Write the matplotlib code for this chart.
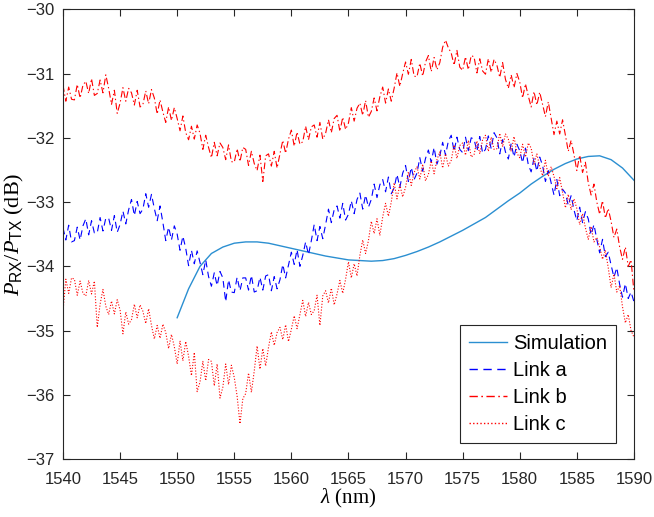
import matplotlib
matplotlib.use("Agg")
import matplotlib.pyplot as plt
import numpy as np

plt.rcParams['mathtext.fontset'] = 'custom'
plt.rcParams['mathtext.rm'] = 'Liberation Serif'
plt.rcParams['mathtext.it'] = 'Liberation Serif:italic'
plt.rcParams['mathtext.sf'] = 'Liberation Sans'

# simulation, 1 nm grid
wl_sim = np.arange(1550, 1591, 1)
p_sim = [-34.80, -34.35, -34.00, -33.80, -33.70, -33.64, -33.62, -33.62, -33.64, -33.68,
         -33.72, -33.76, -33.80, -33.84, -33.87, -33.90, -33.91, -33.92, -33.91, -33.88,
         -33.83, -33.77, -33.70, -33.62, -33.53, -33.44, -33.34, -33.24, -33.11, -32.98,
         -32.86, -32.72, -32.60, -32.49, -32.40, -32.33, -32.29, -32.28, -32.34, -32.47,
         -32.66]

# measured links, 0.25 nm grid (4 values per nm)
wl_meas = np.arange(0, 201) * 0.25 + 1540

link_a = [
    -33.40, -33.59, -33.36, -33.62, -33.60, -33.39, -33.59, -33.37,
    -33.26, -33.51, -33.29, -33.48, -33.48, -33.24, -33.45, -33.25,
    -33.25, -33.44, -33.21, -33.47, -33.35, -33.14, -33.34, -33.12,
    -32.96, -33.21, -32.99, -33.18, -33.11, -32.87, -33.08, -32.88,
    -33.10, -33.29, -33.06, -33.32, -33.60, -33.39, -33.59, -33.37,
    -33.50, -33.75, -33.53, -33.72, -33.99, -33.75, -33.96, -33.76,
    -33.94, -34.13, -33.90, -34.16, -34.31, -34.10, -34.30, -34.08,
    -34.18, -34.55, -34.21, -34.40, -34.41, -34.17, -34.38, -34.18,
    -34.18, -34.37, -34.14, -34.40, -34.38, -34.17, -34.37, -34.15,
    -34.13, -34.38, -34.16, -34.35, -34.21, -33.97, -34.18, -33.98,
    -33.78, -33.97, -33.74, -34.00, -33.83, -33.62, -33.82, -33.60,
    -33.35, -33.60, -33.38, -33.57, -33.35, -33.11, -33.32, -33.12,
    -33.06, -33.25, -33.02, -33.28, -33.19, -32.98, -33.18, -32.96,
    -32.86, -33.11, -32.89, -33.08, -32.96, -32.72, -32.93, -32.73,
    -32.65, -32.84, -32.61, -32.87, -32.78, -32.57, -32.77, -32.55,
    -32.43, -32.68, -32.46, -32.65, -32.55, -32.31, -32.52, -32.32,
    -32.19, -32.38, -32.15, -32.41, -32.28, -32.07, -32.27, -32.05,
    -31.96, -32.21, -31.99, -32.18, -32.23, -31.99, -32.20, -32.00,
    -32.02, -32.21, -31.98, -32.24, -32.18, -31.97, -32.17, -31.92,
    -32.00, -32.25, -32.03, -32.22, -32.33, -32.09, -32.30, -32.10,
    -32.20, -32.39, -32.16, -32.42, -32.53, -32.32, -32.52, -32.30,
    -32.43, -32.68, -32.51, -32.70, -32.89, -32.65, -32.90, -32.80,
    -32.86, -33.05, -32.90, -33.12, -33.29, -33.08, -33.32, -33.15,
    -33.26, -33.51, -33.35, -33.58, -33.79, -33.58, -33.85, -33.78,
    -33.98, -34.17, -34.02, -34.28, -34.48, -34.27, -34.50, -34.40,
    -34.55]

link_b = [
    -31.18, -31.43, -31.21, -31.40, -31.41, -31.17, -31.38, -31.18,
    -31.12, -31.31, -31.08, -31.34, -31.31, -31.10, -31.30, -31.02,
    -31.23, -31.48, -31.26, -31.62, -31.46, -31.22, -31.43, -31.23,
    -31.30, -31.49, -31.26, -31.52, -31.48, -31.27, -31.47, -31.25,
    -31.38, -31.63, -31.41, -31.60, -31.76, -31.52, -31.73, -31.53,
    -31.70, -31.89, -31.66, -31.92, -32.03, -31.82, -32.02, -31.80,
    -31.93, -32.18, -31.96, -32.15, -32.31, -32.07, -32.28, -32.08,
    -32.15, -32.34, -32.11, -32.37, -32.38, -32.17, -32.37, -32.15,
    -32.18, -32.43, -32.21, -32.40, -32.51, -32.27, -32.68, -32.28,
    -32.25, -32.44, -32.21, -32.47, -32.25, -32.04, -32.24, -32.02,
    -31.88, -32.13, -31.91, -32.10, -32.06, -31.82, -32.03, -31.83,
    -31.80, -31.99, -31.76, -32.02, -31.93, -31.72, -31.92, -31.70,
    -31.65, -31.90, -31.68, -31.87, -31.77, -31.53, -31.74, -31.54,
    -31.46, -31.65, -31.42, -31.68, -31.59, -31.38, -31.58, -31.36,
    -31.21, -31.46, -31.24, -31.43, -31.23, -30.99, -31.20, -31.00,
    -30.82, -31.01, -30.78, -31.04, -31.05, -30.84, -31.04, -30.82,
    -30.72, -30.97, -30.75, -30.94, -30.83, -30.59, -30.48, -30.60,
    -30.68, -30.87, -30.64, -30.90, -30.95, -30.74, -30.94, -30.72,
    -30.74, -30.99, -30.77, -30.96, -31.01, -30.77, -30.98, -30.78,
    -30.87, -31.06, -30.83, -31.09, -31.23, -31.02, -31.22, -31.00,
    -31.13, -31.38, -31.16, -31.35, -31.52, -31.28, -31.49, -31.29,
    -31.48, -31.67, -31.44, -31.70, -31.95, -31.74, -31.94, -31.72,
    -31.96, -32.21, -32.04, -32.26, -32.51, -32.27, -32.54, -32.38,
    -32.70, -32.89, -32.72, -33.00, -33.19, -32.98, -33.25, -33.10,
    -33.30, -33.55, -33.42, -33.70, -33.89, -33.70, -34.00, -33.90,
    -34.40]

link_c = [
    -34.70, -34.20, -34.42, -34.18, -34.20, -34.45, -34.23, -34.42,
    -34.46, -34.22, -34.43, -34.23, -34.95, -34.59, -34.36, -34.62,
    -34.75, -34.54, -34.74, -34.52, -34.68, -35.05, -34.71, -34.90,
    -34.83, -34.59, -34.80, -34.60, -34.70, -34.89, -34.66, -34.92,
    -35.13, -34.92, -35.12, -34.90, -35.03, -35.28, -35.06, -35.25,
    -35.52, -35.16, -35.47, -35.17, -35.40, -35.70, -35.34, -35.95,
    -35.80, -35.48, -35.78, -35.45, -35.48, -35.86, -35.52, -36.05,
    -35.88, -35.52, -35.84, -35.54, -35.73, -36.02, -36.45, -36.06,
    -35.98, -35.66, -35.96, -35.63, -35.24, -35.60, -35.28, -35.55,
    -35.26, -35.02, -35.23, -35.03, -34.95, -35.14, -34.91, -35.17,
    -34.98, -34.77, -34.97, -34.75, -34.53, -34.78, -34.56, -34.75,
    -34.69, -34.45, -34.92, -34.46, -34.38, -34.57, -34.34, -34.60,
    -34.43, -34.22, -34.42, -34.20, -33.93, -34.18, -33.96, -34.15,
    -33.83, -33.59, -33.80, -33.60, -33.30, -33.49, -33.26, -33.52,
    -33.23, -33.02, -33.22, -33.00, -32.70, -32.95, -32.73, -32.92,
    -32.77, -32.53, -32.74, -32.54, -32.45, -32.64, -32.41, -32.67,
    -32.57, -32.36, -32.56, -32.34, -32.22, -32.47, -32.25, -32.44,
    -32.35, -32.11, -32.32, -32.12, -32.08, -32.27, -32.04, -32.30,
    -32.26, -32.05, -32.25, -32.03, -31.96, -32.21, -31.99, -32.18,
    -32.17, -31.93, -32.14, -31.94, -32.02, -32.21, -31.98, -32.24,
    -32.31, -32.10, -32.30, -32.08, -32.16, -32.41, -32.25, -32.45,
    -32.59, -32.35, -32.60, -32.45, -32.60, -32.79, -32.62, -32.85,
    -33.09, -32.88, -33.12, -32.95, -33.10, -33.35, -33.18, -33.40,
    -33.58, -33.38, -33.62, -33.55, -33.70, -33.89, -33.75, -34.02,
    -34.33, -34.12, -34.40, -34.30, -34.63, -34.88, -34.75, -35.00,
    -35.10]

fig = plt.figure(figsize=(6.54, 5.17), dpi=100)
ax = fig.add_axes([0.0963, 0.112, 0.873, 0.870])

ax.plot(wl_sim, p_sim, color='#2b8fd1', lw=1.0, label='Simulation')
ax.plot(wl_meas, link_a, color='b', ls=(0, (6, 4)), lw=0.8, label='Link a')
ax.plot(wl_meas, link_b, color='r', ls=(0, (6, 2.5, 1.2, 2.5)), lw=0.8, label='Link b')
ax.plot(wl_meas, link_c, color='r', ls=(0, (1, 1.6)), lw=0.8, label='Link c')

ax.set_xlim(1540, 1590)
ax.set_ylim(-37, -30)
ax.set_xticks(np.arange(1540, 1591, 5))
ax.set_yticks(np.arange(-37, -29, 1))
ax.tick_params(direction='in', top=True, right=True, length=5, width=0.8,
               colors='0.15', labelsize=12, labelcolor='0.15')
ax.tick_params(axis='x', pad=9)
ax.tick_params(axis='y', pad=6)
for lab in ax.get_xticklabels() + ax.get_yticklabels():
    lab.set_family('Liberation Sans')
for s in ax.spines.values():
    s.set_color('0.15')
    s.set_linewidth(0.8)

ax.set_xlabel(r'$\mathit{\lambda}$ (nm)', family='Liberation Serif', fontsize=15, labelpad=0)
ax.set_ylabel(r'$P_{\mathsf{RX}}/P_{\mathsf{TX}}$ (dB)', family='Liberation Serif',
              fontsize=16)
ax.yaxis.set_label_coords(-0.065, 0.5)

leg = ax.legend(loc='lower right', bbox_to_anchor=(0.9685, 0.0356), borderaxespad=0,
                prop={'family': 'Liberation Sans', 'size': 14.5},
                fancybox=False, framealpha=1, edgecolor='0.15',
                handlelength=1.9, handletextpad=0.3, labelspacing=0.4,
                borderpad=0.45)
leg.get_frame().set_linewidth(0.8)
for h in leg.get_lines():
    h.set_linewidth(1.0)

fig.savefig('out.png', dpi=100)
